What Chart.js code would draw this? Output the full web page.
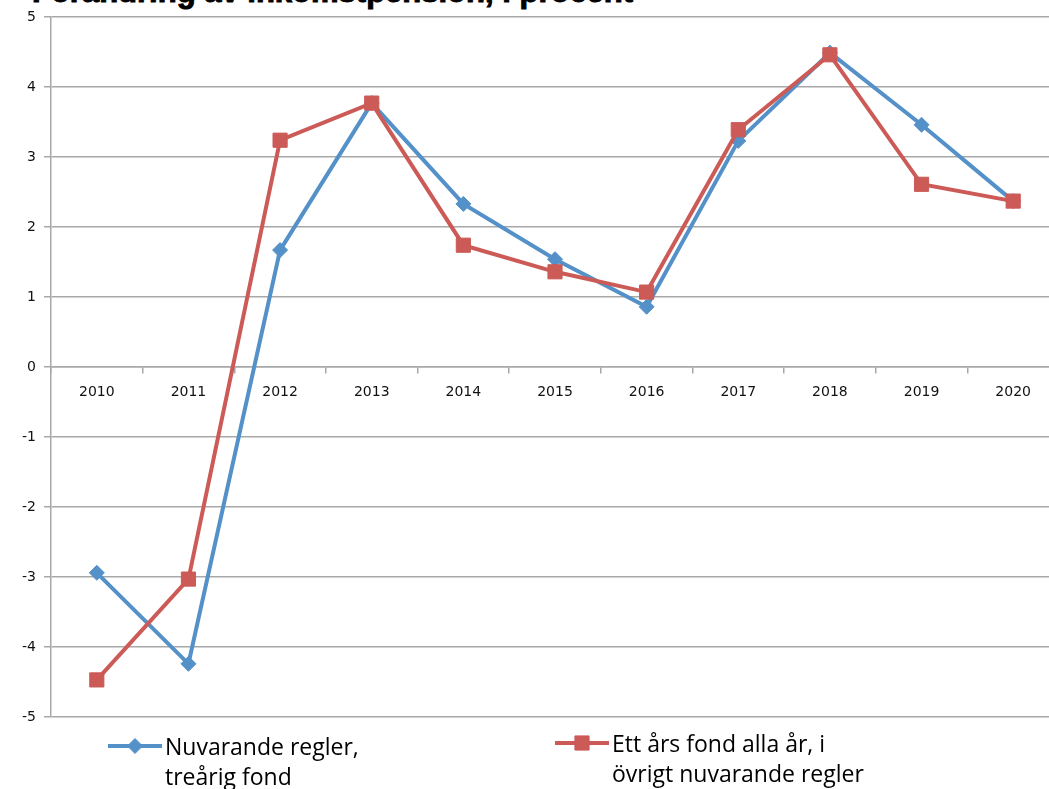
<!DOCTYPE html>
<html>
<head>
<meta charset="utf-8">
<script src="https://cdn.jsdelivr.net/npm/chart.js@4"></script>
<style>
  html, body { margin: 0; padding: 0; background: #fff; }
  body { width: 1049px; height: 789px; overflow: hidden; position: relative; }
  #title {
    position: absolute; left: 32px; top: -24px; margin: 0;
    font: bold 31px "Liberation Sans", Arial, sans-serif; line-height: 31px;
    -webkit-text-stroke: 1px #000;
    color: #000; white-space: nowrap;
  }
  #chart { position: absolute; left: 0; top: 0; }
  .leg { position: absolute; font: 23px "Liberation Sans Narrow", "Open Sans", sans-serif; line-height: 30px; color: #000; }
  .leg canvas { position: absolute; left: -60px; top: 0; }
</style>
</head>
<body>
<h1 id="title">Förändring av inkomstpension, i procent</h1>
<canvas id="chart" width="1070" height="789"></canvas>
<div class="leg" id="leg1" style="left:165px; top:731px;">Nuvarande regler,<br>treårig fond</div>
<div class="leg" id="leg2" style="left:612px; top:728px;">Ett års fond alla år, i<br>övrigt nuvarande regler</div>
<script>
// kategorier och serier
const years = ['2010', '2011', '2012', '2013', '2014', '2015', '2016', '2017', '2018', '2019', '2020'];
const nuvarande = [-2.94, -4.24, 1.67, 3.77, 2.33, 1.54, 0.86, 3.23, 4.49, 3.46, 2.37];
const ettArsFond = [-4.47, -3.03, 3.24, 3.77, 1.74, 1.36, 1.07, 3.39, 4.46, 2.61, 2.37];
const yTicks = [5, 4, 3, 2, 1, 0, -1, -2, -3, -4, -5];

const blue = '#5591c9';
const red = '#cc5a56';
const gridColor = '#a8a8a8';

document.addEventListener('DOMContentLoaded', () => {
    const ctx = document.getElementById('chart').getContext('2d');

    new Chart(ctx, {
        type: 'line',
        data: {
            labels: years,
            datasets: [{
                label: 'Nuvarande regler, treårig fond',
                data: nuvarande,
                borderColor: blue,
                backgroundColor: blue,
                borderWidth: 4,
                pointStyle: 'rectRot',
                pointRadius: 7.5,
                pointBorderWidth: 1,
                tension: 0,
                order: 1
            }, {
                label: 'Ett års fond alla år, i övrigt nuvarande regler',
                data: ettArsFond,
                borderColor: red,
                backgroundColor: red,
                borderWidth: 4,
                pointStyle: 'rect',
                pointRadius: 10,
                pointBorderWidth: 1,
                tension: 0,
                order: 0
            }]
        },
        options: {
            responsive: false,
            animation: false,
            devicePixelRatio: 1,
            layout: { padding: { top: 17, bottom: 72, left: 0, right: 0 } },
            plugins: {
                legend: { display: false },
                tooltip: { enabled: false }
            },
            scales: {
                x: {
                    type: 'category',
                    offset: true,
                    position: { y: 0 },
                    grid: {
                        drawOnChartArea: false,
                        drawTicks: true,
                        tickLength: 6,
                        color: gridColor,
                        lineWidth: 1.5,
                        offset: true
                    },
                    border: { display: true, color: gridColor, width: 1.5 },
                    ticks: {
                        color: '#111',
                        padding: 11,
                        maxRotation: 0,
                        font: { family: 'DejaVu Sans', size: 14 }
                    }
                },
                y: {
                    min: -5,
                    max: 5,
                    afterFit: (scale) => { scale.width = 51; },
                    afterBuildTicks: (scale) => {
                        scale.ticks = yTicks.map(v => ({ value: v }));
                    },
                    grid: {
                        color: gridColor,
                        lineWidth: 1.5,
                        tickLength: 7
                    },
                    border: { display: true, color: gridColor, width: 1.5 },
                    ticks: {
                        color: '#111',
                        padding: 8,
                        font: { family: 'DejaVu Sans', size: 14 }
                    }
                }
            }
        }
    });

    // legend markers drawn beside the html text
    const drawKey = (el, color, style, radius) => {
        const c = document.createElement('canvas');
        c.width = 60; c.height = 30;
        el.appendChild(c);
        const g = c.getContext('2d');
        g.strokeStyle = color;
        g.lineWidth = 4;
        g.beginPath();
        g.moveTo(3, 15);
        g.lineTo(57, 15);
        g.stroke();
        g.fillStyle = color;
        g.strokeStyle = color;
        g.lineWidth = 1;
        Chart.helpers.drawPoint(g, { pointStyle: style, radius: radius, borderWidth: 1 }, 30, 15);
    };
    drawKey(document.getElementById('leg1'), blue, 'rectRot', 7.5);
    drawKey(document.getElementById('leg2'), red, 'rect', 10);
});
</script>
</body>
</html>
